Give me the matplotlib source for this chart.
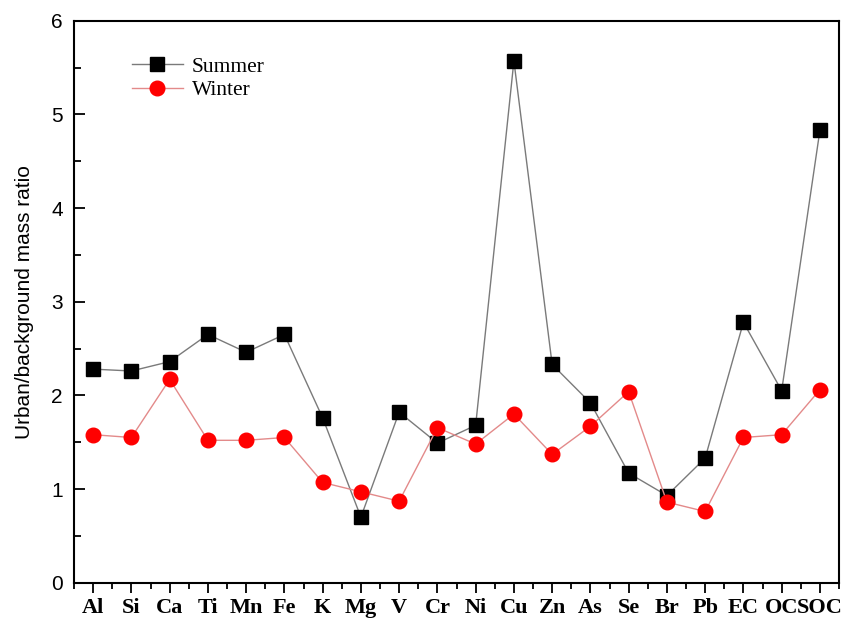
import numpy as np
import matplotlib.pyplot as plt
from matplotlib.ticker import MultipleLocator

plt.rcParams['font.family'] = ['Liberation Serif', 'DejaVu Serif']

# datos
species = ['Al', 'Si', 'Ca', 'Ti', 'Mn', 'Fe', 'K', 'Mg', 'V', 'Cr',
           'Ni', 'Cu', 'Zn', 'As', 'Se', 'Br', 'Pb', 'EC', 'OC', 'SOC']
summer = [2.28, 2.26, 2.36, 2.65, 2.46, 2.65, 1.76, 0.70, 1.82, 1.49,
          1.68, 5.57, 2.33, 1.92, 1.17, 0.93, 1.33, 2.78, 2.05, 4.83]
winter = [1.58, 1.55, 2.17, 1.52, 1.52, 1.55, 1.07, 0.97, 0.87, 1.655,
          1.48, 1.80, 1.37, 1.67, 2.04, 0.86, 0.76, 1.55, 1.58, 2.06]

fig = plt.figure(figsize=(8.43, 6.21), dpi=100)
ax = fig.add_axes([0.0878, 0.0617, 0.9075, 0.905])

x = np.arange(len(species))
ax.plot(x, summer, color='#7a7a7a', lw=1.0, marker='s', ms=9.5,
        mfc='black', mec='black', label='Summer')
ax.plot(x, winter, color='#e38a8a', lw=1.0, marker='o', ms=10.5,
        mfc='#ff0000', mec='#ff0000', label='Winter')

ax.set_xlim(-0.5, len(species) - 0.5)
ax.set_ylim(0, 6)
ax.set_xticks(x)
ax.set_xticklabels(species, fontsize=16, fontweight='bold')
ax.xaxis.set_minor_locator(MultipleLocator(0.5))
ax.yaxis.set_major_locator(MultipleLocator(1))
ax.yaxis.set_minor_locator(MultipleLocator(0.5))
for lab in ax.get_yticklabels():
    lab.set_fontsize(15)
    lab.set_family(['Liberation Sans', 'DejaVu Sans'])

ax.tick_params(axis='x', which='major', direction='out', length=7, width=1.3, pad=4)
ax.tick_params(axis='x', which='minor', direction='out', length=4, width=1.3)
ax.tick_params(axis='y', which='major', direction='in', length=8, width=1.3, pad=8)
ax.tick_params(axis='y', which='minor', direction='in', length=5, width=1.3)
ax.tick_params(top=False, right=False, which='both')

for s in ax.spines.values():
    s.set_linewidth(1.5)

ax.set_ylabel('Urban/background mass ratio', fontsize=15, labelpad=12,
              family=['Liberation Sans', 'DejaVu Sans'])

leg = ax.legend(loc='upper left', bbox_to_anchor=(0.05, 0.97), frameon=False,
                fontsize=15.5, handlelength=2.4, handletextpad=0.4,
                labelspacing=0.15)

fig.savefig('out.png', dpi=100)
